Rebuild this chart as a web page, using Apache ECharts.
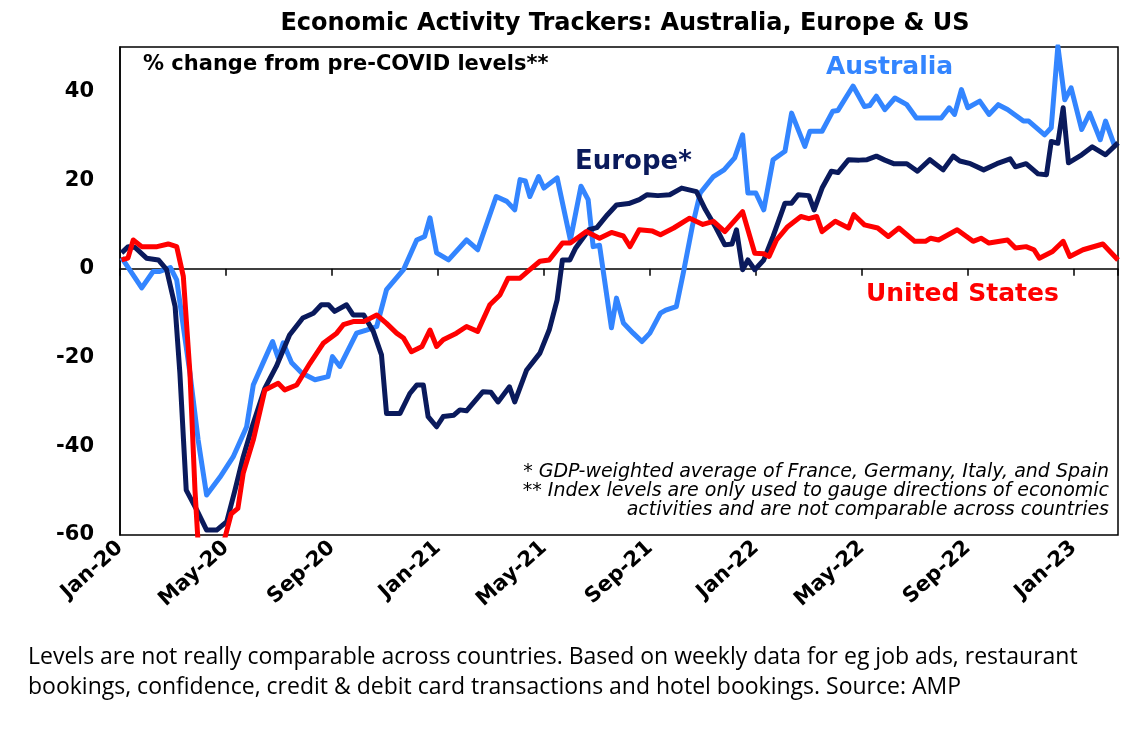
<!DOCTYPE html>
<html>
<head>
<meta charset="utf-8">
<script src="https://cdn.jsdelivr.net/npm/echarts@6/dist/echarts.min.js"></script>
<style>html,body{margin:0;padding:0;background:#fff}#container{width:1143px;height:730px}</style>
</head>
<body>
<div id="container"></div>
<script>
var dom = document.getElementById("container");
var myChart = echarts.init(dom);

// x = months since Jan-20, y = % change from pre-COVID levels
var tickLabels = ["Jan-20", "May-20", "Sep-20", "Jan-21", "May-21", "Sep-21", "Jan-22", "May-22", "Sep-22", "Jan-23"];

var australia = [
  [0.06, 2.5], [0.82, -4.3], [1.25, -0.6], [1.5, -0.6], [1.9, 0.3], [2.14, -2.5], [2.64, -23.5], [2.95, -38.6],
  [3.27, -51], [3.77, -47], [4.27, -42.4], [4.78, -35.6], [5.03, -26.2], [5.4, -21.2], [5.76, -16.4], [5.97, -20.1],
  [6.16, -16.7], [6.48, -21.2], [6.86, -23.5], [7.36, -25], [7.85, -24.3], [8.02, -19.8], [8.3, -22], [8.93, -14.5],
  [9.3, -13.8], [9.69, -13], [10.06, -4.7], [10.7, -0.2], [11.2, 6.5], [11.5, 7.3], [11.7, 11.5], [11.95, 3.6],
  [12.4, 2], [13.08, 6.5], [13.5, 4.3], [14.2, 16.3], [14.6, 15.2], [14.9, 13.3], [15.1, 20.1], [15.3, 19.8],
  [15.47, 16.3], [15.8, 20.8], [16.0, 18.2], [16.5, 20.5], [17.0, 6.5], [17.4, 18.6], [17.67, 15.6], [17.86, 5],
  [18.1, 5.3], [18.55, -13.3], [18.74, -6.6], [19.0, -12.2], [19.37, -14.5], [19.7, -16.4], [20.0, -14.5], [20.4, -10],
  [20.6, -9.3], [21.0, -8.5], [21.26, -1], [21.6, 9.5], [21.9, 17.1], [22.4, 20.8], [22.8, 22.3], [23.2, 25],
  [23.5, 30.2], [23.7, 17.1], [24.0, 17.1], [24.3, 13.3], [24.65, 24.6], [25.1, 26.5], [25.35, 35.1], [25.85, 27.6],
  [26.04, 31], [26.5, 31], [26.9, 35.5], [27.1, 35.7], [27.67, 41.2], [28.1, 36.6], [28.3, 36.8], [28.55, 38.9],
  [28.87, 35.9], [29.25, 38.5], [29.7, 37], [30.06, 34], [30.56, 34], [31.0, 34], [31.3, 36.3], [31.5, 34.8],
  [31.76, 40.4], [32.0, 36.3], [32.45, 37.8], [32.8, 34.8], [33.15, 37], [33.5, 35.9], [34.1, 33.3], [34.3, 33.3],
  [34.9, 30.2], [35.15, 31.8], [35.4, 50.2], [35.66, 38.1], [35.9, 40.8], [36.3, 31.4], [36.6, 35.1], [37.0, 29.1],
  [37.2, 33.3], [37.55, 27.6]
];

var europe = [
  [0.06, 3.6], [0.31, 5], [0.57, 4.8], [1.0, 2.4], [1.45, 2], [1.76, -0.2], [2.08, -8.5], [2.26, -23.5],
  [2.5, -49.9], [2.9, -54.4], [3.27, -58.9], [3.65, -58.9], [4.03, -57], [4.34, -49.9], [4.65, -42.4], [5.03, -34.8],
  [5.47, -26.9], [5.9, -22], [6.4, -14.9], [6.9, -11.1], [7.3, -10], [7.6, -8.1], [7.87, -8.1], [8.1, -9.6],
  [8.55, -8.1], [8.8, -10.4], [9.2, -10.4], [9.56, -14.1], [9.87, -19.4], [10.06, -32.6], [10.57, -32.6], [10.94, -28.1],
  [11.2, -26.2], [11.45, -26.2], [11.63, -33.3], [11.95, -35.6], [12.2, -33.3], [12.6, -33], [12.83, -31.8], [13.08, -32],
  [13.7, -27.7], [14.0, -27.8], [14.27, -30], [14.7, -26.6], [14.9, -30], [15.35, -22.8], [15.85, -19], [16.2, -13.8],
  [16.5, -7], [16.7, 2], [16.98, 2], [17.2, 4.7], [17.7, 8.8], [18.0, 9.3], [18.4, 12.2], [18.74, 14.4],
  [19.2, 14.7], [19.6, 15.6], [19.9, 16.7], [20.3, 16.5], [20.75, 16.7], [21.2, 18.2], [21.76, 17.4], [22.1, 13.3],
  [22.5, 9.2], [22.83, 5.4], [23.1, 5.6], [23.27, 8.8], [23.5, -0.2], [23.7, 2], [23.96, -0.2], [24.3, 2],
  [24.65, 7.3], [25.1, 14.8], [25.35, 14.8], [25.6, 16.7], [26.0, 16.5], [26.2, 13.3], [26.5, 18.2], [26.85, 22],
  [27.1, 21.7], [27.5, 24.6], [27.9, 24.5], [28.2, 24.6], [28.55, 25.4], [28.87, 24.5], [29.2, 23.7], [29.7, 23.7],
  [30.1, 22], [30.57, 24.6], [31.07, 22.3], [31.45, 25.4], [31.7, 24.3], [32.1, 23.7], [32.6, 22.3], [33.1, 23.7],
  [33.6, 24.8], [33.8, 23], [34.2, 23.7], [34.65, 21.4], [34.97, 21.2], [35.15, 28.7], [35.4, 28.3], [35.6, 36.3],
  [35.8, 23.9], [36.3, 25.7], [36.7, 27.5], [37.2, 25.7], [37.67, 28.4]
];

var unitedStates = [
  [0.06, 2], [0.3, 2.4], [0.5, 6.5], [0.82, 5], [1.4, 5], [1.82, 5.6], [2.14, 5], [2.39, -1.7],
  [2.64, -23.5], [2.83, -49.9], [2.95, -62], [3.9, -62], [4.2, -55.2], [4.45, -54], [4.65, -46.1], [5.03, -38.6],
  [5.47, -27.3], [5.97, -25.8], [6.22, -27.3], [6.67, -26.2], [7.17, -21.3], [7.67, -16.8], [8.18, -14.5], [8.43, -12.6],
  [8.8, -11.9], [9.2, -11.9], [9.69, -10.4], [10.06, -12.3], [10.44, -14.5], [10.7, -15.6], [11.0, -18.7], [11.4, -17.5],
  [11.7, -13.8], [11.95, -17.5], [12.2, -16], [12.7, -14.5], [13.08, -13], [13.5, -14.1], [13.96, -8.1], [14.34, -5.9],
  [14.65, -2.1], [15.1, -2.1], [15.47, -0.2], [15.85, 1.7], [16.2, 2], [16.7, 5.8], [17.0, 5.8], [17.6, 8.4],
  [18.1, 6.9], [18.55, 8.2], [19.0, 7.4], [19.25, 5], [19.6, 8.8], [20.1, 8.5], [20.4, 7.7], [20.9, 9.2],
  [21.5, 11.4], [22.0, 10], [22.4, 10.7], [22.83, 8.4], [23.5, 12.9], [23.96, 3.5], [24.3, 3.4], [24.5, 2.8],
  [24.78, 6.5], [25.2, 9.5], [25.7, 11.8], [26.0, 11.3], [26.3, 11.8], [26.5, 8.4], [27.0, 10.7], [27.5, 9.2],
  [27.7, 12.2], [28.1, 9.9], [28.6, 9.2], [29.0, 7.3], [29.4, 9.2], [30.0, 6.2], [30.4, 6.2], [30.6, 6.9],
  [30.9, 6.5], [31.6, 8.8], [32.2, 6.2], [32.5, 6.9], [32.8, 5.8], [33.5, 6.5], [33.8, 4.7], [34.2, 5],
  [34.5, 4.3], [34.7, 2.4], [35.2, 3.9], [35.6, 6.2], [35.85, 2.8], [36.35, 4.3], [37.1, 5.6], [37.67, 2]
];

var bold = "DejaVu Sans";

function lineSeries(name, data, color) {
  return {
    name: name,
    type: "line",
    data: data,
    showSymbol: false,
    xAxisIndex: 0,
    lineStyle: { color: color, width: 5, join: "round" },
    z: name === "United States" ? 4 : (name === "Europe" ? 3 : 2)
  };
}

var option = {
  animation: false,
  title: {
    text: "Economic Activity Trackers: Australia, Europe & US",
    left: 620, top: 7, textAlign: "center",
    textStyle: { fontFamily: bold, fontWeight: "bold", fontSize: 24, color: "#000" }
  },
  grid: { left: 120, right: 25, top: 47, bottom: 195, show: true, borderColor: "#000", borderWidth: 1.5, backgroundColor: "transparent" },
  xAxis: [
    {
      type: "value", min: 0, max: 37.67, interval: 4,
      axisLine: { show: false, onZero: false },
      axisTick: { show: false },
      splitLine: { show: false },
      axisLabel: {
        rotate: 42, margin: 10, showMaxLabel: false,
        fontFamily: bold, fontWeight: "bold", fontSize: 21, color: "#000",
        formatter: function (v) { return tickLabels[Math.round(v / 4)] || ""; }
      }
    },
    {
      type: "value", min: 0, max: 37.67, interval: 4, position: "bottom",
      axisLine: { show: true, onZero: true, lineStyle: { color: "#000", width: 1.5 } },
      axisTick: { show: true, inside: false, length: 7, lineStyle: { color: "#000", width: 1.5 } },
      axisLabel: { show: false },
      splitLine: { show: false }
    }
  ],
  yAxis: {
    type: "value", min: -60, max: 50, interval: 20,
    axisLine: { show: true, lineStyle: { color: "#000", width: 1.5 } },
    axisTick: { show: false },
    splitLine: { show: false },
    axisLabel: {
      margin: 26, showMaxLabel: false,
      fontFamily: bold, fontWeight: "bold", fontSize: 21, color: "#000"
    }
  },
  graphic: [
    { type: "text", left: 143, top: 54, style: { text: "% change from pre-COVID levels**", font: "bold 21px 'DejaVu Sans'", fill: "#000" } },
    { type: "text", left: 826, top: 55, style: { text: "Australia", font: "bold 25px 'DejaVu Sans'", fill: "#3385FF" } },
    { type: "text", left: 575, top: 149, style: { text: "Europe*", font: "bold 26px 'DejaVu Sans'", fill: "#0A1A5C" } },
    { type: "text", left: 866, top: 282, style: { text: "United States", font: "bold 25px 'DejaVu Sans'", fill: "#FF0000" } },
    { type: "text", right: 34, top: 463, style: { text: "* GDP-weighted average of France, Germany, Italy, and Spain", font: "oblique 19px 'DejaVu Sans'", fill: "#000", align: "right" } },
    { type: "text", right: 34, top: 482, style: { text: "** Index levels are only used to gauge directions of economic", font: "oblique 19px 'DejaVu Sans'", fill: "#000", align: "right" } },
    { type: "text", right: 34, top: 501, style: { text: "activities and are not comparable across countries", font: "oblique 19px 'DejaVu Sans'", fill: "#000", align: "right" } },
    { type: "text", left: 28, top: 646, style: { text: "Levels are not really comparable across countries. Based on weekly data for eg job ads, restaurant", font: "23px 'Open Sans'", fill: "#000" } },
    { type: "text", left: 28, top: 676, style: { text: "bookings, confidence, credit & debit card transactions and hotel bookings. Source: AMP", font: "23px 'Open Sans'", fill: "#000" } }
  ],
  series: [
    lineSeries("Australia", australia, "#3385FF"),
    lineSeries("Europe", europe, "#0A1A5C"),
    lineSeries("United States", unitedStates, "#FF0000")
  ]
};
myChart.setOption(option, true);
</script>
</body>
</html>
